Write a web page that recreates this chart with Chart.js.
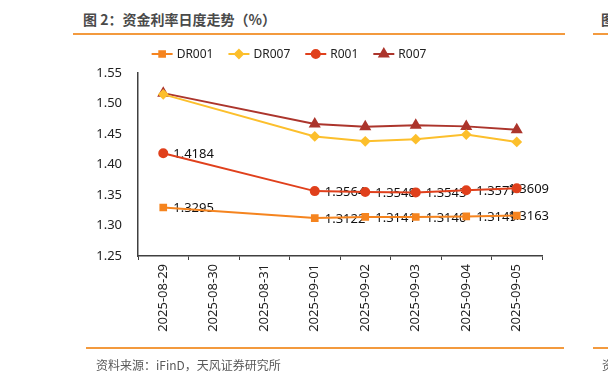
<!DOCTYPE html>
<html>
<head>
<meta charset="utf-8">
<script src="https://cdn.jsdelivr.net/npm/chart.js@4"></script>
<style>
  html, body { margin: 0; padding: 0; background: #fff; }
  body { width: 608px; height: 384px; position: relative; overflow: hidden; font-family: "Noto Sans CJK SC", "Noto Sans", sans-serif; }
  #wrap { position: absolute; left: 0; top: 0; width: 608px; height: 384px; }
  .title { position: absolute; left: 83px; top: 9px; font-size: 14px; color: #4a4a4a; font-weight: bold; white-space: nowrap; }
  .title2 { position: absolute; left: 601px; top: 9px; font-size: 14px; color: #4a4a4a; font-weight: bold; }
  .rule { position: absolute; height: 2px; background: #f39a3e; }
  .source { position: absolute; left: 96px; top: 356px; font-size: 12px; color: #595959; white-space: nowrap; }
  .source2 { position: absolute; left: 602px; top: 356px; font-size: 12px; color: #595959; }
</style>
</head>
<body>
<div class="title">图 2：资金利率日度走势（%）</div>
<div class="title2">图</div>
<div class="rule" style="left:73px; top:33px; width:492px;"></div>
<div class="rule" style="left:593px; top:33px; width:15px;"></div>
<div id="wrap"><canvas id="chart" width="608" height="384"></canvas></div>
<div class="rule" style="left:86px; top:347px; width:478px;"></div>
<div class="rule" style="left:593px; top:347px; width:15px;"></div>
<div class="source">资料来源：iFinD，天风证券研究所</div>
<div class="source2">资</div>
<script>
const dates = ['2025-08-29', '2025-08-30', '2025-08-31', '2025-09-01', '2025-09-02', '2025-09-03', '2025-09-04', '2025-09-05'];
const dr001 = [1.3295, null, null, 1.3122, 1.3141, 1.3140, 1.3149, 1.3163];
const dr007 = [1.515, null, null, 1.446, 1.438, 1.4415, 1.449, 1.437];
const r001 = [1.4184, null, null, 1.3564, 1.3548, 1.3543, 1.3577, 1.3609];
const r007 = [1.517, null, null, 1.4665, 1.462, 1.4645, 1.4625, 1.457];
const yTicks = [1.25, 1.30, 1.35, 1.40, 1.45, 1.50, 1.55];

const seriesNames = ['DR001', 'DR007', 'R001', 'R007'];
const seriesColors = ['#f5841f', '#fcbf2c', '#e0401c', '#ac352c'];
const seriesShapes = ['rect', 'rectRot', 'circle', 'triangle'];
const seriesData = [dr001, dr007, r001, r007];
const labelled = [true, false, true, false];

const datasets = seriesNames.map((name, i) => ({
  label: name,
  data: seriesData[i],
  borderColor: seriesColors[i],
  backgroundColor: seriesColors[i],
  pointBackgroundColor: seriesColors[i],
  pointBorderColor: seriesColors[i],
  pointStyle: seriesShapes[i],
  pointRadius: seriesShapes[i] === 'triangle' ? 5 : 4,
  borderWidth: 2,
  tension: 0,
  spanGaps: true,
  showValues: labelled[i]
}));

// value labels to the right of the points, under the lines like the source
const valueLabels = {
  id: 'valueLabels',
  beforeDatasetsDraw(chart) {
    const ctx = chart.ctx;
    ctx.save();
    ctx.font = '13px "Noto Sans", sans-serif';
    ctx.fillStyle = '#111';
    ctx.textAlign = 'left';
    ctx.textBaseline = 'middle';
    chart.data.datasets.forEach((ds, i) => {
      if (!ds.showValues) return;
      chart.getDatasetMeta(i).data.forEach((pt, j) => {
        const v = ds.data[j];
        if (v == null) return;
        const txt = v.toFixed(4);
        const w = ctx.measureText(txt).width;
        const x = Math.min(pt.x + 10, chart.chartArea.right + 7 - w);
        ctx.fillText(txt, x, pt.y + 1);
      });
    });
    ctx.restore();
  }
};

// legend drawn as line + marker like the source
const lineLegend = {
  id: 'lineLegend',
  afterDraw(chart) {
    const ctx = chart.ctx;
    ctx.save();
    ctx.font = '12px "Noto Sans", sans-serif';
    ctx.textBaseline = 'middle';
    const y = 54;
    const lineLen = 21;
    const widths = seriesNames.map(n => lineLen + 4 + ctx.measureText(n).width);
    const gap = 15;
    const total = widths.reduce((a, b) => a + b, 0) + gap * (widths.length - 1);
    let x = 289 - total / 2;
    seriesNames.forEach((n, i) => {
      ctx.strokeStyle = seriesColors[i];
      ctx.lineWidth = 2;
      ctx.beginPath();
      ctx.moveTo(x, y);
      ctx.lineTo(x + lineLen, y);
      ctx.stroke();
      ctx.fillStyle = seriesColors[i];
      Chart.helpers.drawPoint(ctx, {
        pointStyle: seriesShapes[i],
        radius: seriesShapes[i] === 'triangle' ? 5 : 4,
        rotation: 0,
        borderWidth: 1
      }, x + lineLen / 2, y);
      ctx.fillStyle = '#222';
      ctx.fillText(n, x + lineLen + 4, y + 1);
      x += widths[i] + gap;
    });
    ctx.restore();
  }
};

new Chart(document.getElementById('chart'), {
  type: 'line',
  data: { labels: dates, datasets },
  options: {
    responsive: false,
    animation: false,
    layout: { padding: { left: 90, right: 66, top: 73, bottom: 0 } },
    plugins: { legend: { display: false }, tooltip: { enabled: false } },
    scales: {
      x: {
        offset: true,
        grid: { display: true, offset: true, drawOnChartArea: false, drawTicks: true, tickLength: 4, color: '#404040' },
        border: { display: true, color: '#404040', width: 1.5 },
        ticks: {
          maxRotation: 90, minRotation: 90, autoSkip: false, padding: 4,
          color: '#222', font: { size: 13, family: '"Noto Sans", sans-serif' }
        },
        afterFit(scale) { scale.height = 128; }
      },
      y: {
        min: 1.25, max: 1.55,
        afterBuildTicks(scale) { scale.ticks = yTicks.map(v => ({ value: v })); },
        grid: { display: false, drawTicks: false },
        border: { display: true, color: '#404040', width: 1.5 },
        ticks: {
          padding: 16, color: '#222',
          font: { size: 13, family: '"Noto Sans", sans-serif' },
          callback: v => v.toFixed(2)
        },
        afterFit(scale) { scale.width = 48; }
      }
    }
  },
  plugins: [valueLabels, lineLegend]
});
</script>
</body>
</html>
